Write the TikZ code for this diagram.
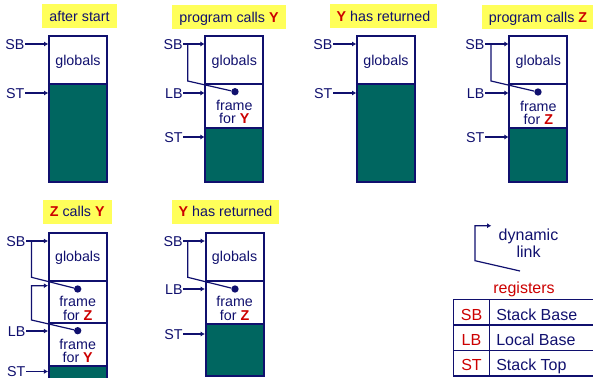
\documentclass[tikz,border=0pt]{standalone}
\usepackage{fontspec}
\setmainfont{Liberation Sans}
\usetikzlibrary{arrows.meta}
\definecolor{navy}{RGB}{16,16,110}
\definecolor{stackteal}{RGB}{0,102,96}
\definecolor{tagyellow}{RGB}{255,255,90}
\definecolor{callred}{RGB}{204,0,0}
\newcommand{\procY}{\textbf{\textcolor{callred}{Y}}}
\newcommand{\procZ}{\textbf{\textcolor{callred}{Z}}}
\begin{document}
\begin{tikzpicture}[x=0.75pt,y=-0.75pt,
    txt/.style={text=navy,font=\fontsize{10.7}{10}\selectfont,inner sep=0pt,outer sep=0pt,text height=7.7pt,text depth=0pt},
    tag/.style={txt,fill=tagyellow,minimum height=18pt},
    cell/.style={txt,draw=navy,line width=1.5pt,minimum width=43.5pt},
    stack/.style={cell,fill=stackteal},
    reg/.style={txt,anchor=east,inner sep=0.5pt},
    regarrow/.style={draw=navy,line width=1.1pt,shorten >=0.5pt,-{Latex[length=3.2pt,width=3.8pt]}},
    link/.style={draw=navy,line width=0.9pt},
    linkarrow/.style={link,shorten >=0.5pt,-{Latex[length=3.2pt,width=3.8pt]}},
    dot/.style={circle,fill=navy,inner sep=0pt,minimum size=5.5pt},
    frametxt/.style={text=navy,font=\fontsize{10.7}{10}\selectfont,align=center,inner sep=0pt,anchor=south},
    legtxt/.style={text=navy,font=\fontsize{12}{12.75}\selectfont,inner sep=0pt,text height=8.6pt,text depth=0pt}]
  \useasboundingbox (0,0) rectangle (593,378);

  \node[tag,minimum width=56.25pt] (tagA) at (79.5,16.5) {after start};
  \node[cell,minimum height=36pt] (gA) at (78,60.5) {globals};
  \node[stack,minimum height=72.75pt] (sA) at (78,133) {};
  \node[reg] (sbA) at (25,44) {SB};
  \node[reg] (stA) at (25,93) {ST};
  \draw[regarrow] (sbA) -- (sbA -| gA.west);
  \draw[regarrow] (stA) -- (stA -| sA.west);

  \node[tag,minimum width=85.5pt] (tagB) at (229,17) {program calls \procY};
  \node[cell,minimum height=36pt] (gB) at (234.3,60.5) {globals};
  \node[cell,minimum height=32.625pt] (fB) at (234.3,106.25) {};
  \node[stack,minimum height=40.125pt] (sB) at (234.3,154.75) {};
  \node[frametxt] (ftB) at (234.3,124.3) {frame\\for \procY};
  \node[dot] (dB) at (235,91.7) {};
  \node[reg] (sbB) at (183.3,44) {SB};
  \node[reg] (lbB) at (183.3,93) {LB};
  \node[reg] (stB) at (183.3,137) {ST};
  \draw[regarrow] (sbB) -- (sbB -| gB.west);
  \draw[regarrow] (lbB) -- (lbB -| fB.west);
  \draw[regarrow] (stB) -- (stB -| sB.west);
  \coordinate (jB) at (187.7,44);
  \coordinate (kB) at (187.7,81);
  \draw[link] (dB) -- (kB) -- (jB);

  \node[tag,minimum width=80.25pt] (tagC) at (383.5,16.5) {\procY{} has returned};
  \node[cell,minimum height=36pt] (gC) at (386,60.5) {globals};
  \node[stack,minimum height=72.75pt] (sC) at (386,133) {};
  \node[reg] (sbC) at (333,44) {SB};
  \node[reg] (stC) at (333,93) {ST};
  \draw[regarrow] (sbC) -- (sbC -| gC.west);
  \draw[regarrow] (stC) -- (stC -| sC.west);

  \node[tag,minimum width=84.5pt] (tagD) at (538,17) {program calls \procZ};
  \node[cell,minimum height=36pt] (gD) at (538.3,60.5) {globals};
  \node[cell,minimum height=32.625pt] (fD) at (538.3,106.25) {};
  \node[stack,minimum height=40.125pt] (sD) at (538.3,154.75) {};
  \node[frametxt] (ftD) at (538.3,125) {frame\\for \procZ};
  \node[dot] (dD) at (538,92) {};
  \node[reg] (sbD) at (485,44) {SB};
  \node[reg] (lbD) at (485,93) {LB};
  \node[reg] (stD) at (485,137) {ST};
  \draw[regarrow] (sbD) -- (sbD -| gD.west);
  \draw[regarrow] (lbD) -- (lbD -| fD.west);
  \draw[regarrow] (stD) -- (stD -| sD.west);
  \coordinate (jD) at (491,44);
  \coordinate (kD) at (491,81);
  \draw[link] (dD) -- (kD) -- (jD);

  \node[tag,minimum width=51.75pt] (tagE) at (77.2,211.7) {\procZ{} calls \procY};
  \node[cell,minimum height=36.15pt] (gE) at (77.7,256.6) {globals};
  \node[cell,minimum height=31.5pt] (fzE) at (77.7,301.7) {};
  \node[cell,minimum height=32.475pt] (fyE) at (77.7,344.35) {};
  \node[stack,minimum height=11.25pt] (sE) at (77.7,373.5) {};
  \node[frametxt] (ftzE) at (77.7,320.7) {frame\\for \procZ};
  \node[frametxt] (ftyE) at (77.7,363.3) {frame\\for \procY};
  \node[dot] (dzE) at (77.7,289) {};
  \node[dot] (dyE) at (77.7,330.7) {};
  \node[reg] (sbE) at (26,241) {SB};
  \node[reg] (lbE) at (26,331) {LB};
  \node[reg] (stE) at (26,371.5) {ST};
  \draw[regarrow] (sbE) -- (sbE -| gE.west);
  \draw[regarrow] (lbE) -- (lbE -| fyE.west);
  \draw[regarrow] (stE) -- (stE -| sE.west);
  \coordinate (jE) at (31.5,241);
  \coordinate (kE) at (31.5,277.3);
  \draw[link] (dzE) -- (kE) -- (jE);
  \coordinate (cE) at (31.5,285.7);
  \coordinate (kyE) at (31.5,320);
  \draw[linkarrow] (dyE) -- (kyE) -- (cE) -- (cE -| fzE.west);

  \node[tag,minimum width=80.7pt] (tagF) at (225.5,211.7) {\procY{} has returned};
  \node[cell,minimum height=36.15pt] (gF) at (234.6,256.6) {globals};
  \node[cell,minimum height=32.7pt] (fzF) at (234.6,302.5) {};
  \node[stack,minimum height=38.775pt] (sF) at (234.6,350.15) {};
  \node[frametxt] (ftF) at (234.6,320.7) {frame\\for \procZ};
  \node[dot] (dF) at (235,289) {};
  \node[reg] (sbF) at (183.3,241) {SB};
  \node[reg] (lbF) at (183.3,289) {LB};
  \node[reg] (stF) at (183.3,334) {ST};
  \draw[regarrow] (sbF) -- (sbF -| gF.west);
  \draw[regarrow] (lbF) -- (lbF -| fzF.west);
  \draw[regarrow] (stF) -- (stF -| sF.west);
  \coordinate (jF) at (187.7,241);
  \coordinate (kF) at (187.7,277.3);
  \draw[link] (dF) -- (kF) -- (jF);

  \coordinate (lgA) at (520,271);
  \coordinate (lgB) at (475,260.7);
  \coordinate (lgC) at (475,225.7);
  \coordinate (lgD) at (492,225.7);
  \draw[linkarrow] (lgA) -- (lgB) -- (lgC) -- (lgD);
  \node[text=navy,font=\fontsize{12}{12.75}\selectfont,align=center,inner sep=0pt,anchor=south] (dyn) at (528.5,257.7) {dynamic\\link};
  \node[legtxt,text=callred] (regs) at (524,288) {registers};
  \begin{scope}[navy,line width=1.2pt]
    \draw (453.3,299.3) rectangle (600,376);
    \draw (489.3,299.3) -- (489.3,376);
    \draw (453.3,325) -- (600,325);
    \draw (453.3,350.5) -- (600,350.5);
  \end{scope}
  \node[legtxt,text=callred] (rSB) at (471.5,315) {SB};
  \node[legtxt,text=callred] (rLB) at (471.5,340) {LB};
  \node[legtxt,text=callred] (rST) at (471.5,365) {ST};
  \node[legtxt,anchor=west] (nSB) at (496,315) {Stack Base};
  \node[legtxt,anchor=west] (nLB) at (496,340) {Local Base};
  \node[legtxt,anchor=west] (nST) at (496,365) {Stack Top};
\end{tikzpicture}
\end{document}
